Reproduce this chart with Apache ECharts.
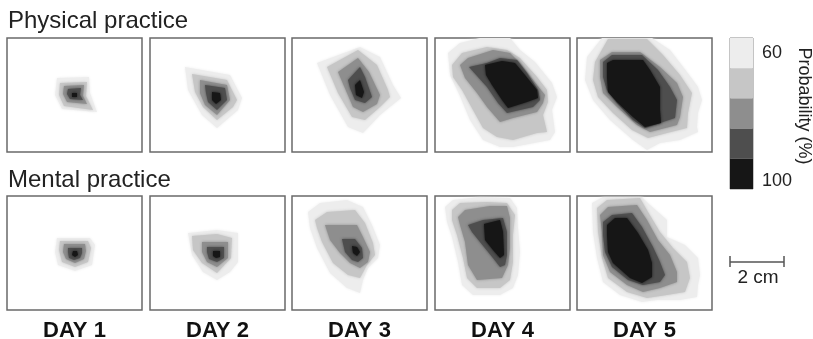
<!DOCTYPE html>
<html>
<head>
<meta charset="utf-8">
<script src="https://cdn.jsdelivr.net/npm/echarts@6/dist/echarts.min.js"></script>
<style>
  html, body { margin: 0; padding: 0; background: #fff; }
  #chart { width: 813px; height: 339px; }
</style>
</head>
<body>
<div id="chart"></div>
<script>
// probability levels (outer 60% -> inner 100%)
const probLabels = ["60", "70", "80", "90", "100"];
const levelColors = ["#ededed", "#c6c6c6", "#8e8e8e", "#4e4e4e", "#161616"];
const days = ["DAY 1", "DAY 2", "DAY 3", "DAY 4", "DAY 5"];
const rowTitles = ["Physical practice", "Mental practice"];

// contour outlines per panel, in panel units (x 0-135 right, y 0-114 down), outer level first
const phys1 = [
	[[50, 40], [82, 39], [83, 55], [90, 74], [55, 71], [48, 57]],
	[[53, 45], [80, 44], [79, 58], [86, 72], [57, 68], [52, 57]],
	[[57, 48], [77, 47], [76, 58], [80, 66], [60, 64], [56, 56]],
	[[61, 51], [74, 50], [73, 57], [76, 62], [63, 61], [60, 56]],
	[[65, 55], [70, 55], [70, 59], [65, 59]]
];
const phys2 = [
	[[35, 29], [80, 37], [92, 60], [88, 72], [67, 90], [52, 77], [38, 52]],
	[[42, 36], [77, 42], [87, 62], [83, 69], [67, 82], [53, 69], [45, 54]],
	[[50, 42], [77, 47], [80, 62], [67, 77], [55, 67], [50, 55]],
	[[55, 47], [75, 50], [77, 62], [67, 72], [58, 64], [56, 55]],
	[[62, 54], [70, 55], [71, 62], [66, 66], [62, 62]]
];
const phys3 = [
	[[25, 25], [68, 9], [88, 19], [101, 47], [109, 60], [88, 77], [71, 95], [56, 89], [38, 57]],
	[[35, 29], [66, 12], [85, 27], [96, 52], [98, 59], [88, 69], [73, 82], [60, 79], [46, 55]],
	[[46, 34], [66, 20], [77, 34], [88, 57], [85, 66], [71, 74], [61, 69], [55, 55]],
	[[56, 42], [68, 29], [73, 39], [80, 59], [73, 65], [63, 62], [58, 50]],
	[[63, 47], [68, 42], [72, 54], [70, 60], [64, 57]]
];
const phys4 = [
	[[13, 15], [25, 5], [45, 0], [75, 0], [85, 12], [100, 24], [117, 45], [122, 59], [117, 72], [120, 94], [115, 102], [78, 109], [65, 109], [48, 102], [35, 82], [25, 58], [15, 37]],
	[[17, 27], [27, 15], [52, 9], [72, 12], [85, 20], [102, 39], [112, 52], [113, 64], [108, 77], [112, 94], [102, 95], [78, 102], [62, 99], [48, 90], [38, 72], [27, 52], [18, 39]],
	[[25, 27], [33, 20], [58, 12], [75, 15], [85, 25], [98, 42], [110, 57], [108, 65], [102, 74], [78, 80], [65, 84], [52, 69], [42, 55], [30, 40]],
	[[34, 29], [52, 25], [65, 20], [82, 22], [92, 35], [103, 52], [105, 62], [98, 69], [72, 75], [63, 65], [52, 49]],
	[[50, 27], [67, 23], [80, 25], [90, 37], [102, 52], [103, 60], [92, 64], [73, 70], [67, 62], [57, 47], [51, 37]]
];
const phys5 = [
	[[10, 19], [25, 0], [75, 0], [93, 12], [110, 34], [121, 49], [125, 62], [121, 75], [120, 89], [121, 94], [103, 102], [83, 105], [70, 112], [56, 102], [33, 82], [16, 62], [8, 42]],
	[[18, 24], [31, 1], [70, 1], [86, 17], [103, 37], [115, 55], [111, 75], [110, 90], [90, 95], [71, 100], [55, 92], [36, 75], [21, 59], [16, 42]],
	[[23, 22], [35, 14], [63, 14], [83, 29], [100, 45], [106, 59], [103, 79], [100, 87], [73, 94], [60, 87], [40, 69], [26, 55], [23, 39]],
	[[26, 24], [35, 17], [65, 17], [81, 32], [93, 49], [100, 62], [98, 80], [83, 85], [68, 90], [56, 82], [40, 65], [30, 52], [26, 39]],
	[[30, 25], [36, 22], [66, 22], [73, 32], [83, 49], [83, 72], [84, 85], [68, 89], [56, 79], [40, 64], [31, 54], [30, 39]]
];
const ment1 = [
	[[50, 42], [83, 42], [88, 49], [85, 69], [68, 75], [51, 69], [48, 56]],
	[[53, 45], [81, 45], [84, 52], [81, 66], [68, 71], [55, 66], [52, 54]],
	[[57, 48], [78, 48], [79, 55], [77, 63], [68, 67], [59, 63], [56, 56]],
	[[61, 52], [75, 52], [75, 57], [73, 62], [67, 64], [62, 62], [61, 56]],
	[[66, 55], [70, 55], [71, 59], [68, 61], [65, 59]]
];
const ment2 = [
	[[38, 37], [67, 34], [88, 37], [88, 66], [80, 76], [67, 84], [53, 76], [42, 59]],
	[[42, 40], [67, 38], [82, 42], [81, 62], [67, 77], [52, 67], [43, 54]],
	[[52, 46], [78, 46], [78, 62], [67, 71], [57, 66], [52, 56]],
	[[57, 51], [74, 51], [74, 62], [67, 66], [59, 63], [57, 56]],
	[[63, 55], [70, 55], [70, 61], [66, 62], [63, 60]]
];
const ment3 = [
	[[16, 16], [28, 7], [55, 4], [71, 11], [80, 29], [88, 49], [86, 62], [76, 72], [71, 84], [68, 97], [55, 92], [38, 77], [25, 52], [18, 32]],
	[[23, 24], [35, 16], [63, 14], [73, 27], [81, 47], [83, 59], [75, 69], [68, 82], [56, 79], [41, 67], [30, 46], [25, 32]],
	[[33, 29], [65, 29], [71, 41], [78, 56], [76, 66], [68, 72], [58, 67], [48, 57], [38, 44]],
	[[50, 43], [63, 43], [70, 52], [71, 62], [66, 66], [60, 64], [53, 56]],
	[[60, 50], [65, 51], [68, 56], [65, 60], [61, 57]]
];
const ment4 = [
	[[10, 11], [18, 4], [45, 1], [75, 2], [82, 12], [83, 32], [85, 56], [83, 79], [78, 92], [65, 99], [38, 99], [27, 89], [23, 66], [17, 41], [12, 26]],
	[[17, 14], [25, 7], [52, 6], [72, 7], [80, 19], [78, 39], [78, 66], [75, 84], [65, 92], [42, 92], [32, 82], [28, 62], [22, 39], [17, 24]],
	[[23, 21], [30, 14], [55, 10], [72, 10], [75, 22], [75, 52], [73, 69], [67, 82], [42, 84], [33, 69], [30, 46], [25, 29]],
	[[33, 29], [48, 24], [68, 22], [72, 36], [72, 59], [70, 69], [65, 71], [58, 62], [45, 46], [37, 36]],
	[[49, 28], [65, 24], [68, 36], [69, 59], [65, 62], [58, 54], [50, 44]]
];
const ment5 = [
	[[15, 7], [26, 1], [65, 1], [73, 9], [90, 24], [90, 41], [108, 49], [121, 62], [123, 79], [121, 89], [120, 101], [103, 104], [80, 104], [65, 106], [43, 99], [26, 86], [20, 62], [16, 36]],
	[[20, 12], [30, 4], [63, 2], [71, 16], [83, 36], [96, 52], [110, 66], [113, 82], [108, 96], [90, 99], [70, 102], [50, 96], [31, 82], [25, 62], [21, 36]],
	[[23, 19], [31, 11], [60, 9], [70, 24], [81, 44], [93, 59], [100, 76], [100, 86], [83, 92], [66, 96], [50, 89], [33, 76], [26, 59], [25, 36]],
	[[26, 26], [35, 19], [55, 17], [65, 31], [76, 51], [83, 66], [88, 79], [83, 86], [66, 89], [51, 84], [35, 71], [28, 56], [26, 39]],
	[[30, 29], [38, 22], [50, 22], [61, 37], [71, 54], [75, 67], [75, 81], [65, 87], [53, 82], [36, 67], [31, 56], [30, 39]]
];

const panels = [phys1, phys2, phys3, phys4, phys5, ment1, ment2, ment3, ment4, ment5];

const font = "'Liberation Sans', Arial, Helvetica, sans-serif";
const colLeft = [7, 150, 292, 435, 577];
const rowTop = [38, 196];
const panelW = 135;
const panelH = 114;

const grids = [];
const xAxes = [];
const yAxes = [];
const series = [];

panels.forEach((blob, i) => {
	const r = Math.floor(i / 5);
	const c = i % 5;
	grids.push({
		left: colLeft[c], top: rowTop[r], width: panelW, height: panelH,
		show: true, borderColor: "#6a6a6a", borderWidth: 1.5, backgroundColor: "#fff"
	});
	xAxes.push({ gridIndex: i, type: "value", min: 0, max: panelW, show: false });
	yAxes.push({ gridIndex: i, type: "value", min: 0, max: panelH, inverse: true, show: false });
	series.push({
		type: "custom",
		xAxisIndex: i,
		yAxisIndex: i,
		clip: true,
		silent: true,
		data: blob.map((poly, k) => [k, k]),
		renderItem: (params, api) => {
			const k = params.dataIndex;
			return {
				type: "polygon",
				shape: { points: blob[k].map(p => api.coord(p)) },
				style: { fill: levelColors[k], shadowBlur: 3, shadowColor: levelColors[k] }
			};
		}
	});
});

// colour bar
grids.push({ left: 730, top: 38, width: 23, height: 151, show: true, borderColor: "#8a8a8a", borderWidth: 1 });
xAxes.push({ gridIndex: 10, type: "value", min: 0, max: 1, show: false });
yAxes.push({
	gridIndex: 10,
	type: "category",
	data: probLabels,
	inverse: true,
	position: "right",
	axisLine: { show: false },
	axisTick: { show: false },
	axisLabel: {
		interval: 0,
		margin: 9,
		fontSize: 18,
		color: "#222",
		fontFamily: font,
		formatter: (v, idx) => {
			if (idx === 0) return v;
			if (idx === probLabels.length - 1) return "{low|" + v + "}";
			return "";
		},
		rich: { low: { fontSize: 18, color: "#222", fontFamily: font, padding: [14, 0, 0, 0] } }
	}
});
series.push({
	type: "bar",
	xAxisIndex: 10,
	yAxisIndex: 10,
	barWidth: "100%",
	silent: true,
	data: probLabels.map((v, k) => ({ value: 1, itemStyle: { color: levelColors[k] } }))
});

const graphics = days.map((d, c) => ({
	type: "text",
	x: colLeft[c] + panelW / 2,
	y: 331,
	style: { text: d, fill: "#111", font: "bold 22px " + font, textAlign: "center", textVerticalAlign: "middle" }
}));
graphics.push({
	type: "text",
	x: 804,
	y: 106,
	rotation: -Math.PI / 2,
	style: { text: "Probability (%)", fill: "#222", font: "18px " + font, textAlign: "center", textVerticalAlign: "middle" }
});
// 2 cm scale bar
graphics.push(
	{ type: "line", shape: { x1: 730, y1: 262, x2: 784, y2: 262 }, style: { stroke: "#555", lineWidth: 1.5 } },
	{ type: "line", shape: { x1: 730, y1: 256, x2: 730, y2: 267 }, style: { stroke: "#555", lineWidth: 1.5 } },
	{ type: "line", shape: { x1: 784, y1: 256, x2: 784, y2: 267 }, style: { stroke: "#555", lineWidth: 1.5 } },
	{ type: "text", x: 758, y: 278, style: { text: "2 cm", fill: "#222", font: "19px " + font, textAlign: "center", textVerticalAlign: "middle" } }
);

const option = {
	animation: false,
	backgroundColor: "#fff",
	title: rowTitles.map((t, r) => ({
		text: t,
		left: 8,
		top: r === 0 ? 9 : 168,
		padding: 0,
		textStyle: { fontSize: 24, fontWeight: "normal", color: "#222", fontFamily: font }
	})),
	grid: grids,
	xAxis: xAxes,
	yAxis: yAxes,
	series: series,
	graphic: graphics
};

const myChart = echarts.init(document.getElementById("chart"));
myChart.setOption(option);
</script>
</body>
</html>
